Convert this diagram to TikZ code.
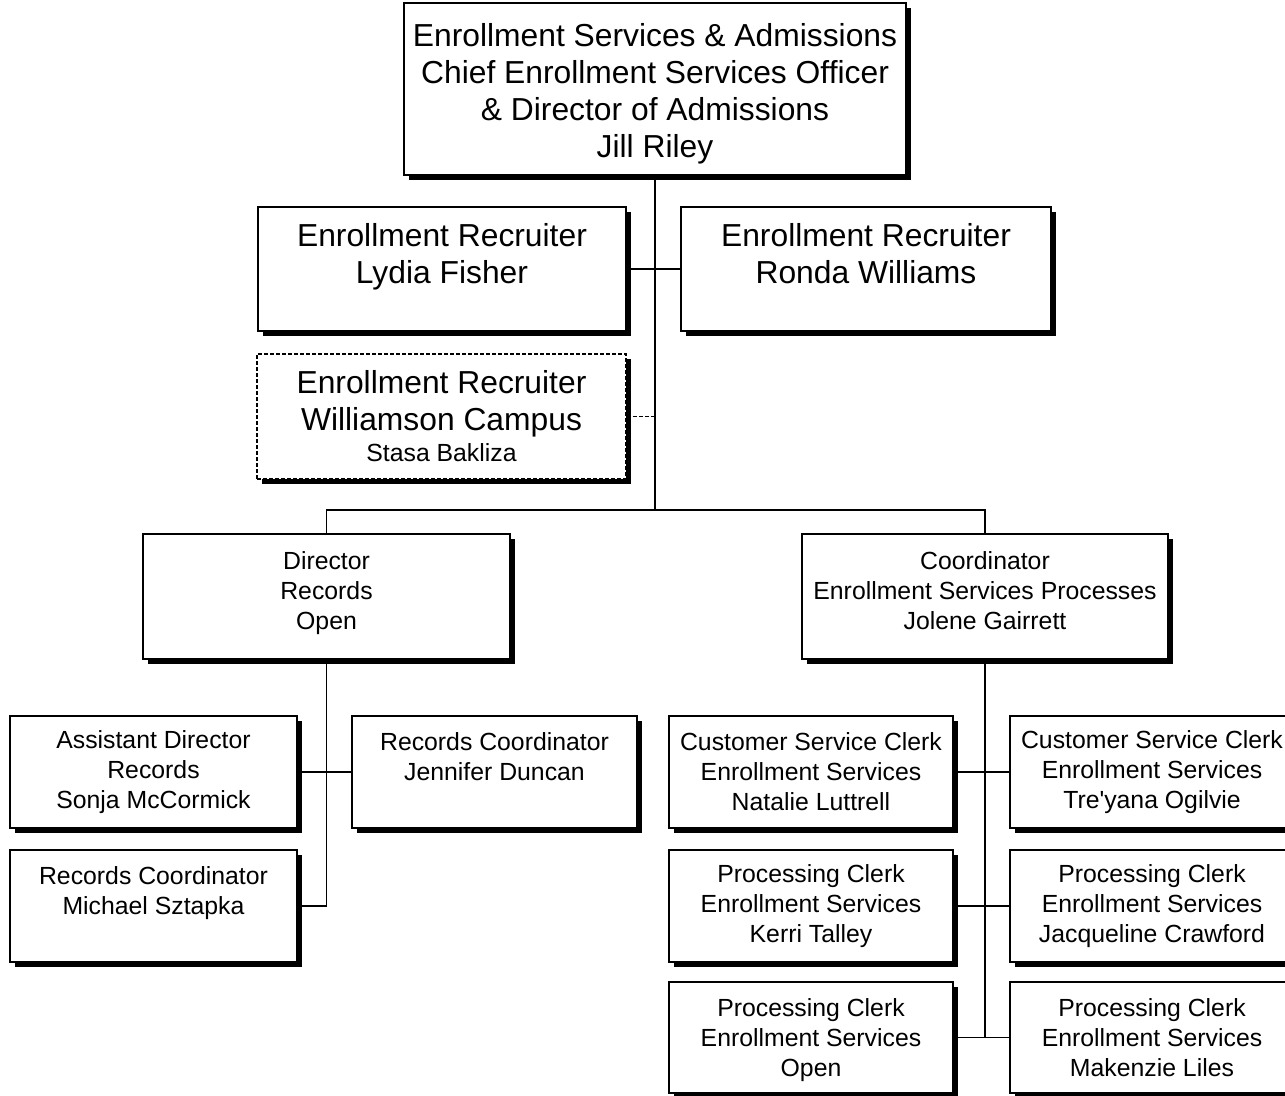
\documentclass[tikz,border=0pt]{standalone}
\usepackage{fontspec}
\setmainfont{Liberation Sans}[Ligatures=TeXOff]
\usetikzlibrary{shadows}
\newcommand{\bigf}{\fontsize{31.8}{37}\selectfont}
\newcommand{\smallf}{\fontsize{24.8}{30}\selectfont}
\tikzset{
  box/.style={draw, line width=1.6pt, fill=white, inner sep=0pt, align=center,
    drop shadow={shadow xshift=5pt, shadow yshift=-5pt, fill=black, opacity=1}},
  bigbox/.style={box, font=\bigf},
  smallbox/.style={box, font=\smallf},
  conn/.style={line width=1.5pt},
}
\begin{document}
\begin{tikzpicture}[x=1pt, y=-1pt]
\useasboundingbox (0,0) rectangle (1285,1095);
% top
\node[bigbox, minimum width=502pt, minimum height=172pt] (top) at (655,89)
  {\mbox{}\\[-4pt]Enrollment Services \& Admissions\\Chief Enrollment Services Officer\\\& Director of Admissions\\Jill Riley};
\node[bigbox, minimum width=368pt, minimum height=124pt] (lydia) at (442,269)
  {Enrollment Recruiter\\Lydia Fisher\\[-6pt]\mbox{}};
\node[bigbox, minimum width=370pt, minimum height=124pt] (ronda) at (866,269)
  {Enrollment Recruiter\\Ronda Williams\\[-6pt]\mbox{}};
\node[bigbox, dash pattern=on 4pt off 2pt, minimum width=369pt, minimum height=125pt] (will) at (441.5,416.5)
  {Enrollment Recruiter\\Williamson Campus\\[-6pt]{\smallf Stasa Bakliza}};
\node[smallbox, minimum width=367pt, minimum height=125pt] (dir) at (326.5,596.5)
  {Director\\Records\\Open\\[-18pt]\mbox{}};
\node[smallbox, minimum width=366pt, minimum height=125pt] (coord) at (985,596.5)
  {Coordinator\\Enrollment Services Processes\\Jolene Gairrett\\[-18pt]\mbox{}};
% left group
\node[smallbox, minimum width=287pt, minimum height=112pt] (asst) at (153.5,772)
  {Assistant Director\\Records\\Sonja McCormick};
\node[smallbox, minimum width=285pt, minimum height=112pt] (jen) at (494.5,772)
  {Records Coordinator\\Jennifer Duncan\\\mbox{}};
\node[smallbox, minimum width=287pt, minimum height=112pt] (mich) at (153.5,906)
  {Records Coordinator\\Michael Sztapka\\\mbox{}};
% right group
\node[smallbox, minimum width=284pt, minimum height=112pt] (nat) at (811,772)
  {Customer Service Clerk\\Enrollment Services\\Natalie Luttrell};
\node[smallbox, minimum width=284pt, minimum height=112pt] (tre) at (1152,772)
  {Customer Service Clerk\\Enrollment Services\\Tre'yana Ogilvie};
\node[smallbox, minimum width=284pt, minimum height=112pt] (kerri) at (811,906)
  {Processing Clerk\\Enrollment Services\\Kerri Talley};
\node[smallbox, minimum width=284pt, minimum height=112pt] (jac) at (1152,906)
  {Processing Clerk\\Enrollment Services\\Jacqueline Crawford};
\node[smallbox, minimum width=284pt, minimum height=111pt] (open) at (811,1037.5)
  {\mbox{}\\[-6pt]Processing Clerk\\Enrollment Services\\Open};
\node[smallbox, minimum width=284pt, minimum height=111pt] (mak) at (1152,1037.5)
  {Processing Clerk\\Enrollment Services\\Makenzie Liles};
% connectors
\coordinate (j1) at (655,510);
\draw[conn] (top.south) -- (j1);
\draw[conn] (lydia.east) -- (ronda.west);
\draw[conn, dash pattern=on 4pt off 2pt] (will.east) -- (will.east -| j1);
\draw[conn] (dir.north) -- (dir.north |- j1) -- (coord.north |- j1) -- (coord.north);
\draw[conn] (dir.south) -- (dir.south |- mich.east) -- (mich.east);
\draw[conn] (asst.east) -- (jen.west);
\draw[conn] (coord.south) -- (coord.south |- open.east);
\draw[conn] (nat.east) -- (tre.west);
\draw[conn] (kerri.east) -- (jac.west);
\draw[conn] (open.east) -- (mak.west);
\end{tikzpicture}
\end{document}
